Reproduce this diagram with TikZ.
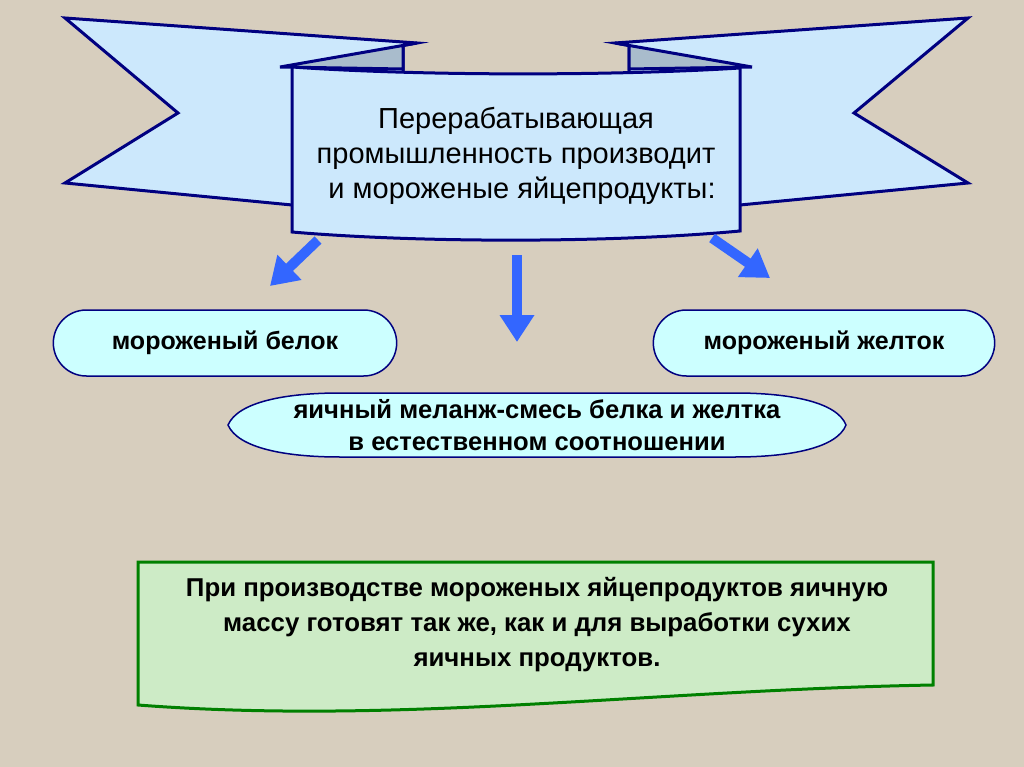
\documentclass[tikz,border=0pt]{standalone}
\usepackage{fontspec}
\setmainfont{Liberation Sans}
\usepackage{xcolor}
\definecolor{SlidePaper}{HTML}{D7CEBE}
\definecolor{RibbonFill}{HTML}{CCE8FC}
\definecolor{RibbonEdge}{HTML}{000080}
\definecolor{RibbonFold}{HTML}{A9BCCC}
\definecolor{FlowBlue}{HTML}{3366FF}
\definecolor{CapsuleFill}{HTML}{CCFFFF}
\definecolor{NoteFill}{HTML}{CDEBC6}
\definecolor{NoteEdge}{HTML}{008000}
\usepackage{tikz}
\usetikzlibrary{positioning,arrows.meta,shapes.misc}
\tikzset{
  ribbon/.style={draw=RibbonEdge,fill=RibbonFill,line width=3pt,line join=miter},
  ribbonfold/.style={draw=RibbonEdge,fill=RibbonFold,line width=3pt,line join=miter},
  titletext/.style={align=center,inner sep=0pt,font=\fontsize{29}{35}\selectfont},
  capsule/.style={rounded rectangle,draw=RibbonEdge,fill=CapsuleFill,line width=1.5pt,minimum height=66pt,align=center,font=\fontsize{25}{32}\selectfont\bfseries},
  capsuleline/.style={draw=RibbonEdge,fill=CapsuleFill,line width=1.5pt},
  captext/.style={align=center,inner sep=0pt,font=\fontsize{25.6}{32}\selectfont\bfseries},
  notebox/.style={draw=NoteEdge,fill=NoteFill,line width=3pt,line join=miter},
  notetext/.style={align=center,inner sep=0pt,font=\fontsize{25.8}{35}\selectfont\bfseries},
  bigflow/.style={-{Triangle[length=27pt 0,width=33pt 0]},draw=FlowBlue,line width=10pt}
}

\begin{document}
\begin{tikzpicture}[x=1pt,y=-1pt]
  \fill[SlidePaper] (0,0) rectangle (1024,767);
  \useasboundingbox (0,0) rectangle (1024,767);
  % ribbon: two flags, folds, front panel
  \draw[ribbon] (65,18) -- (417,43) -- (403,45.5) -- (403,210) -- (292,205) -- (65,183) -- (178,113) -- cycle;
  \draw[ribbonfold] (417,43) -- (280,67) -- (403,69) -- (403,45.5) -- cycle;
  \draw[ribbon] (968,18) -- (615,43) -- (629,45.5) -- (629,210) -- (740,205) -- (968,183) -- (854,113) -- cycle;
  \draw[ribbonfold] (615,43) -- (752,67) -- (629,69) -- (629,45.5) -- cycle;
  \draw[ribbon] (292,67) .. controls (420,76) and (612,76) .. (740,68) -- (740,231)
    .. controls (612,243) and (420,243) .. (292,232) -- cycle;
  \node[titletext] (title) at (516,156) {Перерабатывающая\\промышленность производит\\\hspace*{12pt}и мороженые яйцепродукты:};

  % arrows
  \coordinate (leftFrom) at (318,240);
  \coordinate (leftTo) at (270,286);
  \coordinate (midFrom) at (517,255);
  \coordinate (midTo) at (517,342);
  \coordinate (rightFrom) at (712,238);
  \coordinate (rightTo) at (770,278);
  \draw[bigflow] (leftFrom) -- (leftTo);
  \draw[bigflow] (midFrom) -- (midTo);
  \draw[bigflow] (rightFrom) -- (rightTo);

  % products
  \node[capsule,minimum width=350pt] (white) at (225,343) {мороженый белок};
  \node[capsule,minimum width=348pt] (yolk) at (824,343) {мороженый желток};
  \draw[capsuleline] (228,425) .. controls (238,402) and (285,393) .. (340,393) -- (735,393)
    .. controls (790,393) and (837,402) .. (846,425) .. controls (837,448) and (790,457) .. (735,457)
    -- (340,457) .. controls (285,457) and (238,448) .. (228,425) -- cycle;
  \node[captext] (blend) at (537,425) {яичный меланж-смесь белка и желтка\\в естественном соотношении};

  % note
  \draw[notebox] (138,562) -- (933,562) -- (933,685) .. controls (650,690) and (400,725) .. (138,705) -- cycle;
  \node[notetext] (note) at (537,625) {При производстве мороженых яйцепродуктов яичную\\массу готовят так же, как и для выработки сухих\\яичных продуктов.};
\end{tikzpicture}
\end{document}
